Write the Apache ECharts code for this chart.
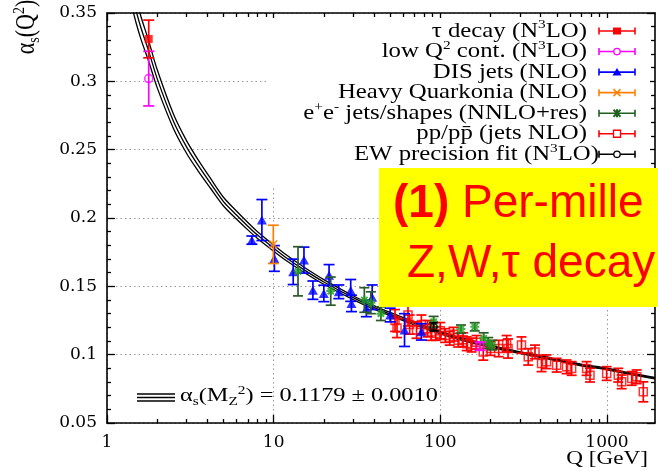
<!DOCTYPE html>
<html><head><meta charset="utf-8">
<script src="https://cdn.jsdelivr.net/npm/echarts@6/dist/echarts.min.js"></script>
<style>html,body{margin:0;padding:0;background:#fff}#c{width:658px;height:471px}</style>
</head><body><div id="c"></div>
<script>
// ---------- data ----------
// world-average running curve (centre and half width of the band)
const curveQ   = [1.4, 1.5, 1.6, 1.78, 2.0, 2.5, 3.0, 3.5, 4.2, 5, 6, 7, 8, 10, 12, 15, 20, 30, 40, 50, 70, 91.19, 120, 173, 250, 400, 700, 1000, 1500, 1942];
const curveMid = [0.366, 0.351, 0.339, 0.322, 0.302, 0.271, 0.252, 0.239, 0.225, 0.212, 0.202, 0.194, 0.1875, 0.178, 0.1706, 0.1626, 0.1532, 0.1417, 0.1346, 0.1297, 0.1228, 0.1179, 0.1130, 0.1080, 0.1035, 0.0985, 0.0925, 0.0895, 0.0852, 0.0828];
const curveErr = [0.0096, 0.0089, 0.0083, 0.0075, 0.0066, 0.0053, 0.0046, 0.0041, 0.0036, 0.0032, 0.0029, 0.0027, 0.0025, 0.0023, 0.0021, 0.0019, 0.0017, 0.0014, 0.0013, 0.0012, 0.0011, 0.0010, 0.0009, 0.00084, 0.00077, 0.0007, 0.00062, 0.00058, 0.00052, 0.00049];

// tau decay (N3LO)
const tauQ = [1.78];
const tauA = [0.331];
const tauE = [0.0138];
// low Q2 cont. (N3LO)
const lowQ = [1.78, 173];
const lowA = [0.302, 0.1062];
const lowE = [0.020, 0.003];
// DIS jets (NLO)
const disQ = [7.4, 8.5, 10.1, 13.1, 15.2, 17.2, 20.0, 21.5, 24.6, 29.0, 29.3, 36.0, 39.0, 50.0, 61.0, 77.0];
const disA = [0.1838, 0.1985, 0.1704, 0.1606, 0.1692, 0.1472, 0.1448, 0.1582, 0.1460, 0.1470, 0.1375, 0.1338, 0.1420, 0.1290, 0.1180, 0.1167];
const disE = [0.0030, 0.0150, 0.0094, 0.0093, 0.0095, 0.0067, 0.0060, 0.0077, 0.0050, 0.0080, 0.0060, 0.0060, 0.0090, 0.0050, 0.0120, 0.0060];
// Heavy Quarkonia (NLO)
const hqQ = [9.95];
const hqA = [0.1807];
const hqE = [0.014];
// e+e- jets/shapes (NNLO+res)
const eeQ = [14.0, 22.0, 35.0, 38.3, 44.0, 91.2, 133, 161, 182, 194, 205];
const eeA = [0.1610, 0.1465, 0.1400, 0.1380, 0.1300, 0.1240, 0.1187, 0.1204, 0.1120, 0.1085, 0.1070];
const eeE = [0.0180, 0.0103, 0.0090, 0.0080, 0.0050, 0.0040, 0.0030, 0.0030, 0.0040, 0.0040, 0.0035];
// pp/ppbar (jets NLO)
const ppQ = [53.5, 55, 64, 65.5, 72, 77, 84, 88, 94, 100, 107, 114, 120, 128, 137, 144, 154, 165, 181, 200, 224, 250, 255, 307, 337, 370, 405, 434, 499, 572, 614, 755, 791, 996, 1169, 1225, 1408, 1508, 1652];
const ppA = [0.1250, 0.1195, 0.1290, 0.1220, 0.1180, 0.1220, 0.1190, 0.1165, 0.1155, 0.1175, 0.1140, 0.1120, 0.1150, 0.1106, 0.1110, 0.1080, 0.1070, 0.1090, 0.1020, 0.1045, 0.1045, 0.1080, 0.1045, 0.1070, 0.0984, 0.1020, 0.0936, 0.0948, 0.0923, 0.0911, 0.0899, 0.0899, 0.0850, 0.0862, 0.0850, 0.0801, 0.0826, 0.0838, 0.0728];
const ppE = [0.0080, 0.0070, 0.0080, 0.0070, 0.0060, 0.0070, 0.0060, 0.0060, 0.0050, 0.0060, 0.0050, 0.0050, 0.0050, 0.0050, 0.0050, 0.0050, 0.0050, 0.0050, 0.0060, 0.0050, 0.0060, 0.0060, 0.0070, 0.0060, 0.0060, 0.0050, 0.0060, 0.0050, 0.0050, 0.0050, 0.0050, 0.0050, 0.0050, 0.0050, 0.0050, 0.0050, 0.0050, 0.0050, 0.0073];
// EW precision fit (N3LO)
const ewQ = [91.19];
const ewA = [0.1204];
const ewE = [0.0030];

// axis ticks and texts
const xMajorTicks = [1, 10, 100, 1000];
const xMinorTicks = [2,3,4,5,6,7,8,9,20,30,40,50,60,70,80,90,200,300,400,500,600,700,800,900];
const yMin = 0.05, yMax = 0.35, yStep = 0.05;
const xMin = 1, xMax = 1942;
const legendNames = ['τ decay (N³LO)', 'low Q² cont. (N³LO)', 'DIS jets (NLO)', 'Heavy Quarkonia (NLO)', 'e⁺e⁻ jets/shapes (NNLO+res)', 'pp/pp̄ (jets NLO)', 'EW precision fit (N³LO)'];
const legendRich = [
  '{n|τ decay (N}{p|3}{n|LO)}',
  '{n|low Q}{p|2}{n| cont. (N}{p|3}{n|LO)}',
  '{n|DIS jets (NLO)}',
  '{n|Heavy Quarkonia (NLO)}',
  '{n|e}{p|+}{n|e}{p|-}{n| jets/shapes (NNLO+res)}',
  '{n|pp/pp\u0304 (jets NLO)}',
  '{n|EW precision fit (N}{p|3}{n|LO)}'
];
const fitText = '{n|α}{b|s}{n|(M}{b|Z}{p|2}{n|) = 0.1179 ± 0.0010}';
const yTitle = '{n|α}{b|s}{n|(Q}{p|2}{n|)}';
const xTitle = 'Q [GeV]';
const boxLine1 = '{b|(1)}{r| Per-mille}';
const boxLine2 = 'Z,W,τ decay';

// ---------- styling ----------
const SERIF = 'Liberation Serif';
const TICKFONT = 'DejaVu Serif';
const C = {
  tau: '#ff0000', low: '#ff00ff', dis: '#0000ff', hq: '#ff8000',
  ee: '#1f9a1f', eeBar: '#2a5a2a', pp: '#ff0000', ew: '#000000'
};

function pts(q, a, e) { return q.map((v, i) => e ? [v, a[i], e[i]] : [v, a[i]]); }

function errSeries(name, q, a, e, color, cap, z) {
  return {
    type: 'custom', name: name, xAxisIndex: 0, yAxisIndex: 0, z: z, clip: true,
    data: pts(q, a, e), encode: {x: 0, y: 1},
    renderItem: function (params, api) {
      const x = api.value(0), v = api.value(1), er = api.value(2);
      const lo = api.coord([x, v - er]), hi = api.coord([x, v + er]);
      const st = {stroke: color, lineWidth: 1.7};
      return {type: 'group', children: [
        {type: 'line', shape: {x1: lo[0], y1: lo[1], x2: hi[0], y2: hi[1]}, style: st},
        {type: 'line', shape: {x1: lo[0] - cap, y1: lo[1], x2: lo[0] + cap, y2: lo[1]}, style: st},
        {type: 'line', shape: {x1: hi[0] - cap, y1: hi[1], x2: hi[0] + cap, y2: hi[1]}, style: st}
      ]};
    }
  };
}
function markSeries(name, q, a, symbol, size, itemStyle, z) {
  return {type: 'scatter', name: name, xAxisIndex: 0, yAxisIndex: 0, z: z,
    data: pts(q, a), symbol: symbol, symbolSize: size, itemStyle: itemStyle, silent: true};
}
const X_PATH = 'path://M0 0L10 10M10 0L0 10';
const STAR_PATH = 'path://M0 5L10 5M5 0L5 10M1.5 1.5L8.5 8.5M8.5 1.5L1.5 8.5';

const bandLine = (name, data) => ({
  type: 'line', name: name, data: data, showSymbol: false, smooth: 0.3, z: 2, silent: true,
  lineStyle: {color: '#000', width: 1.3}, xAxisIndex: 0, yAxisIndex: 0
});
const upper = curveQ.map((q, i) => [q, curveMid[i] + curveErr[i]]);
const lower = curveQ.map((q, i) => [q, curveMid[i] - curveErr[i]]);
const mid = curveQ.map((q, i) => [q, curveMid[i]]);

const series = [
  bandLine('band upper', upper), bandLine('band lower', lower), bandLine('world average', mid),
  errSeries(legendNames[5], ppQ, ppA, ppE, C.pp, 5, 4),
  markSeries(legendNames[5], ppQ, ppA, 'rect', 8, {color: 'none', borderColor: C.pp, borderWidth: 1.5}, 5),
  errSeries(legendNames[2], disQ, disA, disE, C.dis, 5.5, 6),
  markSeries(legendNames[2], disQ, disA, 'triangle', [10, 9], {color: C.dis}, 7),
  errSeries(legendNames[4], eeQ, eeA, eeE, C.eeBar, 5, 8),
  markSeries(legendNames[4], eeQ, eeA, STAR_PATH, 9, {color: 'none', borderColor: C.ee, borderWidth: 2}, 9),
  errSeries(legendNames[3], hqQ, hqA, hqE, C.hq, 5.5, 8),
  markSeries(legendNames[3], hqQ, hqA, X_PATH, 8, {color: 'none', borderColor: C.hq, borderWidth: 1.7}, 9),
  errSeries(legendNames[6], ewQ, ewA, ewE, C.ew, 4.5, 10),
  markSeries(legendNames[6], ewQ, ewA, 'circle', 7, {color: 'none', borderColor: C.ew, borderWidth: 1.5}, 11),
  errSeries(legendNames[1], lowQ, lowA, lowE, C.low, 5.5, 10),
  markSeries(legendNames[1], lowQ, lowA, 'circle', 8, {color: 'none', borderColor: C.low, borderWidth: 1.5}, 11),
  errSeries(legendNames[0], tauQ, tauA, tauE, C.tau, 5.5, 10),
  markSeries(legendNames[0], tauQ, tauA, 'rect', 8, {color: C.tau}, 11)
];

// ---------- legend and annotations (graphic) ----------
const richBase = (fs) => ({
  n: {fontFamily: SERIF, fontSize: fs, lineHeight: fs + 4, fill: '#000', color: '#000'},
  p: {fontFamily: SERIF, fontSize: Math.round(fs * 0.62), lineHeight: Math.round(fs * 0.62) + 1, verticalAlign: 'top', fill: '#000', color: '#000'},
  b: {fontFamily: SERIF, fontSize: Math.round(fs * 0.62), lineHeight: Math.round(fs * 0.62) + 1, verticalAlign: 'bottom', fill: '#000', color: '#000'}
});
const legendColors = [C.tau, C.low, C.dis, C.hq, '#1f5f1f', C.pp, C.ew];
const legendMarks = ['fsquare', 'ocircle', 'triangle', 'x', 'star', 'osquare', 'ocircle'];
const LX0 = 599, LX1 = 635, LXC = 617, LY0 = 31, LDY = 20.55;
const graphics = [];
// opaque key box
graphics.push({type: 'rect', shape: {x: 268, y: 18, width: 382, height: 168}, style: {fill: '#fff'}, z: 50, silent: true});
legendRich.forEach((txt, i) => {
  const y = LY0 + i * LDY, col = legendColors[i];
  graphics.push({type: 'text', x: i === 6 ? 599 : 587, y: y, scaleX: 1.18, z: 60, silent: true,
    style: {text: txt, rich: richBase(21), align: 'right', verticalAlign: 'middle', textAlign: 'right', textVerticalAlign: 'middle'}});
  const st = {stroke: col, lineWidth: 1.6};
  graphics.push({type: 'line', shape: {x1: LX0, y1: y, x2: LX1, y2: y}, style: st, z: 60, silent: true});
  graphics.push({type: 'line', shape: {x1: LX0, y1: y - 3.5, x2: LX0, y2: y + 3.5}, style: st, z: 60, silent: true});
  graphics.push({type: 'line', shape: {x1: LX1, y1: y - 3.5, x2: LX1, y2: y + 3.5}, style: st, z: 60, silent: true});
  const m = legendMarks[i];
  if (m === 'fsquare') graphics.push({type: 'rect', shape: {x: LXC - 4, y: y - 3.5, width: 8, height: 7}, style: {fill: col}, z: 61, silent: true});
  if (m === 'osquare') graphics.push({type: 'rect', shape: {x: LXC - 3.5, y: y - 3.5, width: 7, height: 7}, style: {fill: '#fff', stroke: col, lineWidth: 1.3}, z: 61, silent: true});
  if (m === 'ocircle') graphics.push({type: 'circle', shape: {cx: LXC, cy: y, r: 3.2}, style: {fill: '#fff', stroke: col, lineWidth: 1.3}, z: 61, silent: true});
  if (m === 'triangle') graphics.push({type: 'polygon', shape: {points: [[LXC - 4.5, y + 3.5], [LXC + 4.5, y + 3.5], [LXC, y - 4]]}, style: {fill: col}, z: 61, silent: true});
  if (m === 'x') graphics.push({type: 'polyline', shape: {points: [[LXC - 3.5, y - 3.5], [LXC + 3.5, y + 3.5]]}, style: {stroke: col, lineWidth: 1.5}, z: 61, silent: true},
                               {type: 'polyline', shape: {points: [[LXC + 3.5, y - 3.5], [LXC - 3.5, y + 3.5]]}, style: {stroke: col, lineWidth: 1.5}, z: 61, silent: true});
  if (m === 'star') graphics.push({type: 'polyline', shape: {points: [[LXC - 3.5, y - 3.5], [LXC + 3.5, y + 3.5]]}, style: {stroke: col, lineWidth: 2}, z: 61, silent: true},
                                  {type: 'polyline', shape: {points: [[LXC + 3.5, y - 3.5], [LXC - 3.5, y + 3.5]]}, style: {stroke: col, lineWidth: 2}, z: 61, silent: true},
                                  {type: 'polyline', shape: {points: [[LXC, y - 4], [LXC, y + 4]]}, style: {stroke: col, lineWidth: 2}, z: 61, silent: true});
});
// fit annotation with triple-line sample
[394, 397.5, 401].forEach(yy => graphics.push({type: 'line', shape: {x1: 137, y1: yy, x2: 175, y2: yy}, style: {stroke: '#000', lineWidth: 1.3}, z: 60, silent: true}));
graphics.push({type: 'text', x: 180, y: 396, scaleX: 1.28, z: 60, silent: true,
  style: {text: fitText, rich: richBase(19), align: 'left', verticalAlign: 'middle', textAlign: 'left', textVerticalAlign: 'middle'}});
// axis titles
graphics.push({type: 'text', x: 27, y: 27, rotation: Math.PI / 2, scaleY: 1.2, z: 60, silent: true,
  style: {text: yTitle, rich: richBase(22), align: 'center', verticalAlign: 'middle', textAlign: 'center', textVerticalAlign: 'middle'}});
graphics.push({type: 'text', x: 648, y: 459, scaleX: 1.22, z: 60, silent: true,
  style: {text: xTitle, fontFamily: SERIF, fontSize: 19, fill: '#000', align: 'right', verticalAlign: 'middle', textAlign: 'right', textVerticalAlign: 'middle'}});
// yellow overlay box
graphics.push({type: 'rect', shape: {x: 379, y: 168, width: 290, height: 139}, style: {fill: '#ffff00'}, z: 100, silent: true});
graphics.push({type: 'text', x: 393, y: 204, z: 101, silent: true,
  style: {text: boxLine1, rich: {
    b: {fontFamily: 'Liberation Sans', fontSize: 46, fontWeight: 'bold', fill: '#ff0000', color: '#ff0000'},
    r: {fontFamily: 'Liberation Sans', fontSize: 46, fill: '#ff0000', color: '#ff0000'}},
    align: 'left', verticalAlign: 'middle', textAlign: 'left', textVerticalAlign: 'middle'}});
graphics.push({type: 'text', x: 407, y: 264, z: 101, silent: true,
  style: {text: boxLine2, fontFamily: 'Liberation Sans', fontSize: 46, fill: '#ff0000', align: 'left', verticalAlign: 'middle', textAlign: 'left', textVerticalAlign: 'middle'}});

// ---------- axes ----------
const dotted = {show: true, lineStyle: {color: '#999', width: 1, type: [1.5, 3]}};
const axLine = {show: true, onZero: false, lineStyle: {color: '#000', width: 1.6}};
function xAx(pos, ticks, len, labels, split, line) {
  return {type: 'log', logBase: 10, min: xMin, max: xMax, position: pos, gridIndex: 0,
    axisLine: line ? axLine : {show: false, onZero: false},
    axisTick: {show: true, inside: true, length: len, customValues: ticks, lineStyle: {color: '#000', width: 1.3}},
    axisLabel: labels ? {show: true, customValues: ticks, formatter: v => String(v), fontFamily: TICKFONT, fontSize: 17, color: '#000', margin: 11} : {show: false},
    splitLine: split ? dotted : {show: false}, minorTick: {show: false}, minorSplitLine: {show: false}};
}
function yAx(pos, labels, split) {
  return {type: 'value', min: yMin, max: yMax, interval: yStep, position: pos, gridIndex: 0,
    axisLine: axLine,
    axisTick: {show: true, inside: true, length: 8, lineStyle: {color: '#000', width: 1.3}},
    minorTick: {show: true, splitNumber: 5, length: 4, lineStyle: {color: '#000', width: 1.3}},
    axisLabel: labels ? {show: true, formatter: v => String(+v.toFixed(2)), fontFamily: TICKFONT, fontSize: 17, color: '#000', margin: 10} : {show: false},
    splitLine: split ? dotted : {show: false}};
}

const chart = echarts.init(document.getElementById('c'), null, {renderer: 'canvas'});
chart.setOption({
  backgroundColor: '#fff',
  animation: false,
  grid: {left: 107, right: 3, top: 13, bottom: 48, containLabel: false},
  xAxis: [
    xAx('bottom', xMajorTicks, 8, true, true, true),
    xAx('bottom', xMinorTicks, 4, false, false, false),
    xAx('top', xMajorTicks, 8, false, false, true),
    xAx('top', xMinorTicks, 4, false, false, false)
  ],
  yAxis: [yAx('left', true, true), yAx('right', false, false)],
  series: series,
  graphic: {elements: graphics}
});
</script></body></html>
